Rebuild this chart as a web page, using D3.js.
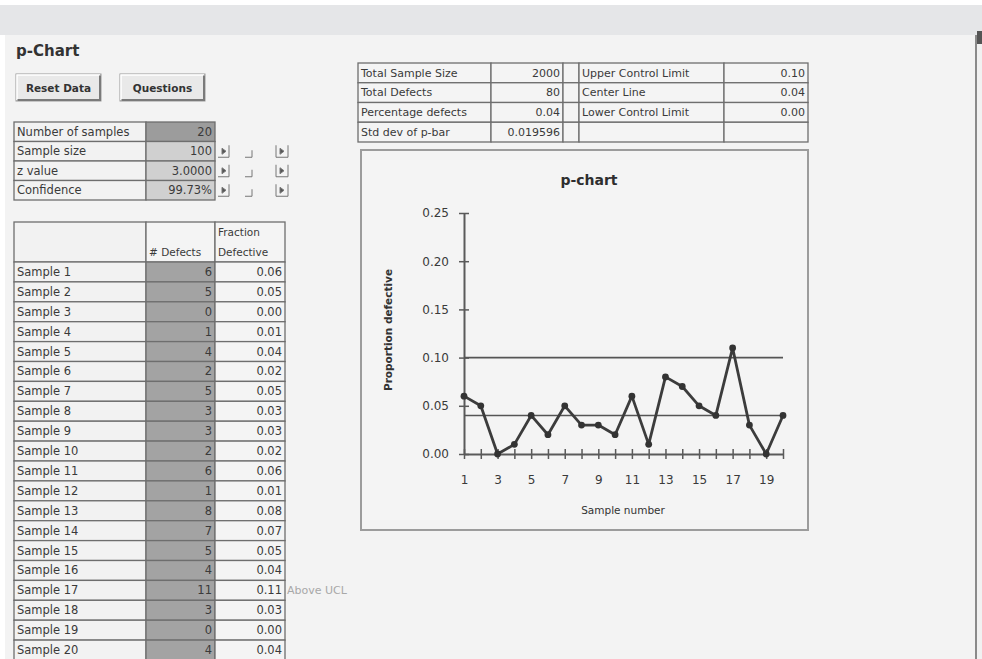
<!DOCTYPE html>
<html><head><meta charset="utf-8">
<script src="https://cdn.jsdelivr.net/npm/d3@7"></script>
<style>body{margin:0;background:#fff}svg{display:block}text{font-family:"DejaVu Sans",sans-serif}</style>
</head><body>
<svg id="c" width="982" height="659"></svg>
<script>
// ---------- data ----------
const sampleNumbers = [1,2,3,4,5,6,7,8,9,10,11,12,13,14,15,16,17,18,19,20];
const defects = [6,5,0,1,4,2,5,3,3,2,6,1,8,7,5,4,11,3,0,4];
const fractions = [0.06,0.05,0.00,0.01,0.04,0.02,0.05,0.03,0.03,0.02,0.06,0.01,0.08,0.07,0.05,0.04,0.11,0.03,0.00,0.04];
const settingLabels = ["Number of samples","Sample size","z value","Confidence"];
const settingValues = ["20","100","3.0000","99.73%"];
const summaryLabels = ["Total Sample Size","Total Defects","Percentage defects","Std dev of p-bar"];
const summaryValues = ["2000","80","0.04","0.019596"];
const limitLabels = ["Upper Control Limit","Center Line","Lower Control Limit",""];
const limitValues = ["0.10","0.04","0.00",""];
const limitLines = [0.10, 0.04];
const yTickValues = [0,0.05,0.10,0.15,0.20,0.25];
const xTickValues = [1,2,3,4,5,6,7,8,9,10,11,12,13,14,15,16,17,18,19,20];
const xTickLabels = [1,3,5,7,9,11,13,15,17,19];
const ucl = 0.10;

const svg = d3.select("#c");
const TXT = "#3a3a3a", BORDER = "#6e6e6e";

// ---------- page background ----------
svg.append("rect").attr("x",0).attr("y",0).attr("width",982).attr("height",659).attr("fill","#ffffff");
svg.append("rect").attr("x",0).attr("y",5).attr("width",982).attr("height",30).attr("fill","#e5e6e8");
svg.append("rect").attr("x",5).attr("y",35).attr("width",970).attr("height",624).attr("fill","#f3f3f3");
// right scrollbar
svg.append("rect").attr("x",975).attr("y",35).attr("width",7).attr("height",624).attr("fill","#f1f1f1");
svg.append("line").attr("x1",976).attr("x2",976).attr("y1",35).attr("y2",659).attr("stroke","#8a8a8a").attr("stroke-width",2);
svg.append("rect").attr("x",977).attr("y",31).attr("width",5).attr("height",13).attr("fill","#555");

// ---------- title and buttons ----------
svg.append("text").attr("x",16).attr("y",56).attr("font-size",15).attr("font-weight","bold").attr("fill","#333").text("p-Chart");
[["Reset Data",16],["Questions",120]].forEach(([t,x])=>{
  const g = svg.append("g").attr("transform",`translate(${x},74)`);
  g.append("rect").attr("width",85).attr("height",27).attr("fill","#e9e9e9").attr("stroke","#9a9a9a");
  g.append("path").attr("d","M1,26 V1 H84").attr("fill","none").attr("stroke","#ffffff").attr("stroke-width",1.5);
  g.append("path").attr("d","M1.5,26 H84 V1.5").attr("fill","none").attr("stroke","#7a7a7a").attr("stroke-width",2);
  g.append("text").attr("x",42.5).attr("y",17.5).attr("text-anchor","middle").attr("font-size",10.5).attr("font-weight","bold").attr("fill","#333").text(t);
});

function cell(g,x,y,w,h,fill){
  g.append("rect").attr("x",x).attr("y",y).attr("width",w).attr("height",h)
    .attr("fill",fill).attr("stroke",BORDER).attr("stroke-width",1.3);
}

// ---------- settings table ----------
const setY = d3.scaleBand().domain(settingLabels).range([122,200]);
const setG = svg.append("g");
settingLabels.forEach((lab,i)=>{
  const y0 = setY(lab), h = setY.bandwidth();
  cell(setG,14,y0,132,h,"#f2f2f2");
  cell(setG,146,y0,69,h,i===0?"#9c9c9c":"#d0d0d0");
  setG.append("text").attr("x",17).attr("y",y0+h/2).attr("dy","0.35em").attr("font-size",11.5).attr("fill",TXT).text(lab);
  setG.append("text").attr("x",212).attr("y",y0+h/2).attr("dy","0.35em").attr("text-anchor","end").attr("font-size",11.5).attr("fill",TXT).text(settingValues[i]);
  if(i>0){
    const cy = y0+h/2;
    const sg = setG.append("g").attr("stroke","#777").attr("fill","none").attr("stroke-width",1);
    sg.append("path").attr("d",`M218,${cy+6} H229 V${cy-6}`);
    sg.append("path").attr("d",`M222,${cy-3} L226,${cy} L222,${cy+3}Z`).attr("fill","#555");
    sg.append("path").attr("d",`M245,${cy+6} H252 V${cy-1}`);
    sg.append("path").attr("d",`M276,${cy+6} H288 V${cy-6} M276,${cy-6} V${cy+6}`);
    sg.append("path").attr("d",`M280,${cy-3} L284,${cy} L280,${cy+3}Z`).attr("fill","#555");
  }
});

// ---------- data table ----------
const tabG = svg.append("g");
cell(tabG,14,222,132,40,"#f2f2f2");
cell(tabG,146,222,69,40,"#f4f4f4");
cell(tabG,215,222,70,40,"#f4f4f4");
tabG.append("text").attr("x",149).attr("y",256).attr("font-size",10.5).attr("fill",TXT).text("# Defects");
tabG.append("text").attr("x",218).attr("y",236).attr("font-size",10.5).attr("fill",TXT).text("Fraction");
tabG.append("text").attr("x",218).attr("y",256).attr("font-size",10.5).attr("fill",TXT).text("Defective");

const rowY = d3.scaleBand().domain(sampleNumbers).range([262,660]);
const fmt2 = d3.format(".2f");
sampleNumbers.forEach((n,i)=>{
  const y0 = rowY(n), h = rowY.bandwidth();
  cell(tabG,14,y0,132,h,"#f2f2f2");
  cell(tabG,146,y0,69,h,"#a3a3a3");
  cell(tabG,215,y0,70,h,"#f4f4f4");
  tabG.append("text").attr("x",17).attr("y",y0+h/2).attr("dy","0.35em").attr("font-size",11.5).attr("fill",TXT).text("Sample "+n);
  tabG.append("text").attr("x",212).attr("y",y0+h/2).attr("dy","0.35em").attr("text-anchor","end").attr("font-size",11.5).attr("fill",TXT).text(defects[i]);
  tabG.append("text").attr("x",282).attr("y",y0+h/2).attr("dy","0.35em").attr("text-anchor","end").attr("font-size",11.5).attr("fill",TXT).text(fmt2(fractions[i]));
  if(fractions[i] > ucl){
    tabG.append("text").attr("x",287).attr("y",y0+h/2).attr("dy","0.35em").attr("font-size",11).attr("fill","#a8a8a8").text("Above UCL");
  }
});

// ---------- summary table ----------
const sumY = d3.scaleBand().domain(summaryLabels).range([63,142]);
const sumG = svg.append("g");
summaryLabels.forEach((lab,i)=>{
  const y0 = sumY(lab), h = sumY.bandwidth();
  cell(sumG,358,y0,133,h,"#f4f4f4");
  cell(sumG,491,y0,72,h,"#f4f4f4");
  cell(sumG,563,y0,16,h,"#f4f4f4");
  cell(sumG,579,y0,145,h,"#f4f4f4");
  cell(sumG,724,y0,84,h,"#f4f4f4");
  sumG.append("text").attr("x",361).attr("y",y0+h/2).attr("dy","0.35em").attr("font-size",11).attr("fill",TXT).text(lab);
  sumG.append("text").attr("x",560).attr("y",y0+h/2).attr("dy","0.35em").attr("text-anchor","end").attr("font-size",11).attr("fill",TXT).text(summaryValues[i]);
  sumG.append("text").attr("x",582).attr("y",y0+h/2).attr("dy","0.35em").attr("font-size",11).attr("fill",TXT).text(limitLabels[i]);
  sumG.append("text").attr("x",805).attr("y",y0+h/2).attr("dy","0.35em").attr("text-anchor","end").attr("font-size",11).attr("fill",TXT).text(limitValues[i]);
});

// ---------- chart ----------
const chart = svg.append("g");
chart.append("rect").attr("x",361).attr("y",150).attr("width",447).attr("height",380)
  .attr("fill","#f4f4f4").attr("stroke","#9c9c9c").attr("stroke-width",2);
chart.append("text").attr("x",589).attr("y",185).attr("text-anchor","middle").attr("font-size",14).attr("font-weight","bold").attr("fill","#2e2e2e").text("p-chart");

const x = d3.scaleLinear().domain([1,20]).range([464,783]);
const y = d3.scaleLinear().domain([0,0.25]).range([454,213]);
const AX = "#5a5a5a";

// y axis
const yAxisG = chart.append("g").attr("transform","translate(464,0)")
  .call(d3.axisLeft(y).tickValues(yTickValues).tickFormat(d3.format(".2f")).tickSize(0).tickPadding(15));
yAxisG.select(".domain").attr("stroke",AX).attr("stroke-width",2);
yAxisG.selectAll(".tick line").attr("x1",-5).attr("x2",5).attr("stroke",AX).attr("stroke-width",1.5);
yAxisG.selectAll(".tick text").attr("font-size",12).attr("fill","#3a3a3a").style("font-family","DejaVu Sans");

// control limit lines
chart.selectAll(".limit").data(limitLines).join("line").attr("class","limit")
  .attr("x1",x(1)).attr("x2",x(20)).attr("y1",d=>y(d)).attr("y2",d=>y(d))
  .attr("stroke","#555").attr("stroke-width",1.6);

// x axis
const xAxisG = chart.append("g").attr("transform",`translate(0,${y(0)})`)
  .call(d3.axisBottom(x).tickValues(xTickValues).tickFormat(d=>xTickLabels.includes(d)?d:"").tickSize(0).tickPadding(21));
xAxisG.select(".domain").attr("stroke",AX).attr("stroke-width",2);
xAxisG.selectAll(".tick line").attr("y1",-5).attr("y2",5).attr("stroke",AX).attr("stroke-width",1.5);
xAxisG.selectAll(".tick text").attr("font-size",12).attr("fill","#3a3a3a").style("font-family","DejaVu Sans");

// axis titles
chart.append("text").attr("transform","translate(392,330) rotate(-90)").attr("text-anchor","middle")
  .attr("font-size",10.5).attr("font-weight","bold").attr("fill","#333").text("Proportion defective");
chart.append("text").attr("x",623).attr("y",514).attr("text-anchor","middle")
  .attr("font-size",10.5).attr("fill","#333").text("Sample number");

// series line
const pts = sampleNumbers.map((n,i)=>[n,fractions[i]]);
chart.append("path").datum(pts)
  .attr("d",d3.line().x(d=>x(d[0])).y(d=>y(d[1])))
  .attr("fill","none").attr("stroke","#3c3c3c").attr("stroke-width",2.8).attr("stroke-linejoin","round");
chart.selectAll(".mk").data(pts).join("circle").attr("class","mk")
  .attr("cx",d=>x(d[0])).attr("cy",d=>y(d[1])).attr("r",3.4)
  .attr("fill","#333");
</script>
</body></html>
